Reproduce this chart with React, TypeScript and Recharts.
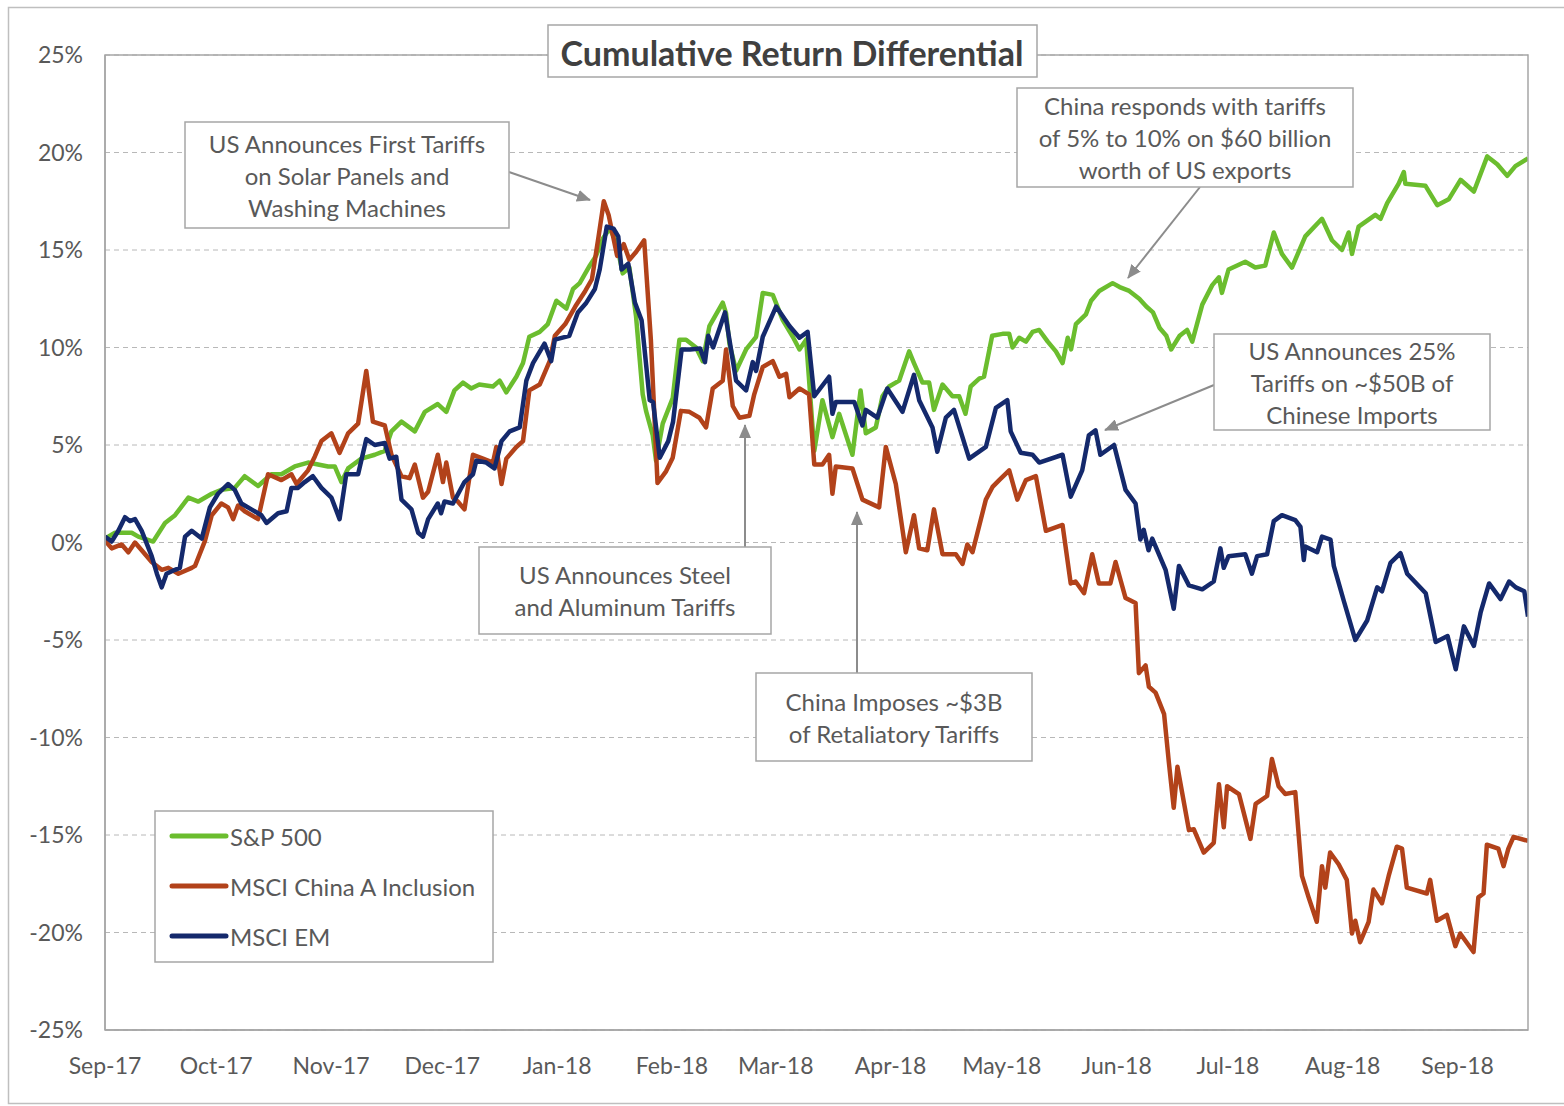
import React from 'react';
import { LineChart, Line, XAxis, YAxis, CartesianGrid } from 'recharts';

// x = days since 1 Sep 2017, y = cumulative return differential in %
const xTickDays = [0, 30, 61, 91, 122, 153, 181, 212, 242, 273, 303, 334, 365];
const xTickLabels = ['Sep-17', 'Oct-17', 'Nov-17', 'Dec-17', 'Jan-18', 'Feb-18', 'Mar-18', 'Apr-18', 'May-18', 'Jun-18', 'Jul-18', 'Aug-18', 'Sep-18'];
const yTicks = [-25, -20, -15, -10, -5, 0, 5, 10, 15, 20, 25];

const seriesNames = ['S&P 500', 'MSCI China A Inclusion', 'MSCI EM'];
const seriesColors = ['#6bbd2e', '#b2421a', '#14296c'];

const sp500: [number, number][] = [
  [0, 0.2], [2.7, 0.5], [7.2, 0.5], [9, 0.3], [13, 0.05], [16.2, 1.0], [18.9, 1.4], [22.5, 2.3], [25.2, 2.1], [28.8, 2.5],
  [31.4, 2.7], [35, 2.8], [37.7, 3.4], [41.3, 2.9], [44.9, 3.5], [47.6, 3.5], [51.2, 3.9], [54.8, 4.1], [57.5, 4.0], [60.2, 3.9],
  [62, 3.9], [63.8, 3.1], [65.6, 3.8], [69.2, 4.3], [72.8, 4.5], [75.5, 4.7], [77.3, 5.7], [80, 6.2], [83.6, 5.7], [86.3, 6.7],
  [89.8, 7.1], [92.1, 6.7], [94.3, 7.8], [96.6, 8.2], [98.8, 7.9], [101, 8.1], [104.7, 8.0], [106.5, 8.3], [108.3, 7.7], [111, 8.5],
  [112.8, 9.2], [114.5, 10.55], [117.3, 10.8], [119.5, 11.2], [121.8, 12.4], [124.5, 12.0], [126.3, 13.0], [128.1, 13.3], [130.8, 14.2], [132.5, 14.7],
  [134.4, 15.6], [136.2, 16.1], [138, 15.4], [139.7, 13.8], [141.5, 14.1], [143.3, 11.6], [145.1, 7.6], [146, 6.75], [147.8, 5.5], [148.7, 4.2],
  [150.5, 6.1], [153.2, 7.4], [155, 10.4], [156.8, 10.4], [159.5, 10.0], [161.3, 9.3], [163.1, 11.1], [166.7, 12.3], [167.6, 11.75], [168.5, 10.2],
  [170.3, 8.8], [173, 9.9], [175.7, 10.55], [177.5, 12.8], [180.2, 12.7], [182.9, 11.4], [185.6, 10.55], [187.4, 9.9], [189.2, 10.4], [191.4, 4.7],
  [193.6, 7.3], [196.3, 5.4], [198.1, 6.6], [201.7, 4.5], [203.9, 7.8], [205.3, 5.6], [208, 5.9], [209.8, 7.5], [211.6, 8.0], [214.3, 8.3],
  [217, 9.8], [218.3, 9.2], [220.6, 8.2], [222.4, 8.2], [223.7, 6.8], [226, 8.1], [228.7, 7.5], [230.5, 7.5], [232.2, 6.6], [233.6, 8.0],
  [235.9, 8.4], [237.2, 8.5], [239.4, 10.6], [242.2, 10.7], [244, 10.7], [244.9, 10.0], [246.7, 10.5], [248.5, 10.3], [250.3, 10.8], [252.1, 10.9],
  [254.4, 10.3], [256.6, 9.8], [258.4, 9.2], [259.8, 10.5], [260.7, 9.9], [262, 11.2], [264.7, 11.7], [266.1, 12.4], [268.3, 12.9], [271.9, 13.3],
  [273.8, 13.1], [276.4, 12.9], [279.1, 12.5], [281, 12.1], [282.8, 11.8], [284.6, 11.0], [286.4, 10.6], [287.7, 9.9], [290, 10.6], [292, 10.9],
  [293.4, 10.3], [296.1, 12.2], [298.8, 13.2], [300.6, 13.6], [301.4, 12.8], [303.2, 14.0], [307.7, 14.4], [310.4, 14.1], [313.1, 14.2], [315.4, 15.9],
  [317.6, 14.8], [320.3, 14.1], [323.9, 15.7], [328.4, 16.6], [331.1, 15.5], [333.8, 15.0], [335.6, 15.9], [336.5, 14.8], [338.3, 16.2], [342.8, 16.8],
  [344.2, 16.6], [346, 17.4], [349.1, 18.4], [350.5, 19.0], [350.9, 18.4], [356.3, 18.3], [359.5, 17.3], [362.6, 17.6], [365.8, 18.6], [369.4, 18.0],
  [373, 19.8], [375.7, 19.4], [378.4, 18.8], [380.6, 19.3], [384, 19.7],
];

const chinaA: [number, number][] = [
  [0, 0.1], [1.8, -0.3], [4.5, -0.1], [6.3, -0.5], [8.1, 0], [9.9, -0.4], [12.6, -1.0], [15.3, -1.4], [17.1, -1.3], [19.8, -1.6],
  [23.4, -1.3], [24.3, -1.2], [27, 0.1], [28.8, 1.4], [31.4, 2.0], [33.2, 1.8], [34.6, 1.2], [35.9, 1.9], [37.7, 1.6], [41.3, 1.2],
  [44, 3.5], [47.6, 3.2], [50.3, 3.5], [51.7, 3.0], [54.8, 3.7], [56.6, 4.4], [58.4, 5.2], [61.1, 5.6], [63.3, 4.6], [65.6, 5.6],
  [68.3, 6.1], [70.5, 8.8], [72.3, 6.2], [75.5, 6.0], [77.3, 4.5], [80, 3.4], [82.2, 3.3], [83.6, 4.0], [85.8, 2.3], [87.2, 2.6],
  [89.8, 4.5], [91.2, 3.1], [92.1, 4.1], [93.9, 2.3], [95.2, 2.1], [97, 1.7], [99.3, 4.5], [102, 4.3], [104.7, 4.1], [105.6, 4.9],
  [107, 3.0], [108.3, 4.3], [111, 4.9], [112.8, 5.2], [114.5, 7.8], [117.3, 8.1], [120, 9.3], [121.4, 10.6], [124.2, 11.2], [126.9, 12.1],
  [129.6, 12.9], [131.4, 13.5], [133.2, 15.7], [134.6, 17.5], [135.9, 16.8], [138.2, 14.7], [140, 15.3], [141.5, 14.5], [143.3, 14.9], [145.5, 15.5],
  [147.3, 10.4], [149.1, 3.05], [151.4, 3.65], [153.2, 4.35], [155.4, 6.75], [157.7, 6.7], [160.4, 6.4], [162.2, 5.9], [164, 7.9], [166.7, 8.3],
  [167.6, 9.9], [169.4, 7.0], [171.2, 6.4], [173.9, 6.5], [175.2, 7.6], [177.5, 9.0], [180.2, 9.3], [182, 8.5], [183.8, 8.65], [184.7, 7.45],
  [187.4, 7.9], [190, 7.6], [191.4, 4.0], [193.6, 4.0], [195.4, 4.5], [196.3, 2.5], [197.2, 3.9], [201.7, 3.8], [204.4, 2.2], [208.9, 1.8],
  [210.7, 4.9], [213.4, 3.0], [216.1, -0.5], [218.3, 1.4], [219.7, -0.3], [221.9, -0.4], [223.7, 1.7], [226, -0.6], [229.6, -0.6], [231.4, -1.1],
  [232.7, -0.1], [234.1, -0.5], [237.7, 2.2], [239.5, 2.85], [241.3, 3.2], [244, 3.7], [246.2, 2.2], [248.5, 3.2], [251.2, 3.4], [253.9, 0.6],
  [258.4, 0.9], [260.6, -2.1], [261.9, -2.0], [264.2, -2.6], [266.4, -0.6], [268.2, -2.1], [271.3, -2.1], [272.7, -1.0], [275.4, -2.85], [278.1, -3.1],
  [279, -6.7], [280.8, -6.3], [281.7, -7.4], [283.5, -7.7], [285.8, -8.8], [287.1, -11.3], [288.4, -13.6], [289.4, -11.5], [292.5, -14.75], [293.8, -14.7],
  [296.5, -15.9], [299.2, -15.4], [300.6, -12.4], [301.9, -14.6], [302.8, -12.5], [306, -12.9], [309.1, -15.2], [310.5, -13.4], [313.6, -13.0], [314.9, -11.1],
  [316.7, -12.5], [318.5, -12.9], [321.2, -12.8], [323, -17.1], [324.8, -18.2], [327, -19.45], [328.4, -16.6], [329.3, -17.7], [330.6, -15.9], [332.9, -16.5],
  [335.1, -17.3], [336.5, -20.05], [337.4, -19.4], [338.7, -20.5], [341, -19.45], [342.3, -17.8], [344.6, -18.5], [346.4, -17.1], [348.6, -15.6], [350, -15.7],
  [351.3, -17.7], [356.7, -18.0], [357.6, -17.3], [359.4, -19.4], [362.1, -19.1], [364.4, -20.7], [365.7, -20.05], [369.3, -21.0], [370.6, -18.2], [372, -18.0],
  [372.9, -15.5], [376, -15.7], [377.4, -16.6], [378.7, -15.7], [380.1, -15.1], [384, -15.3],
];

const msciEm: [number, number][] = [
  [0, 0.3], [1.8, 0.05], [3.6, 0.6], [5.4, 1.3], [6.7, 1.1], [8.1, 1.2], [9.9, 0.6], [12.6, -0.7], [14, -1.6], [15.3, -2.3],
  [16.6, -1.6], [18.9, -1.4], [20.2, -1.3], [21.6, 0.3], [23.4, 0.6], [26.1, 0.2], [28.3, 1.8], [30.5, 2.5], [33.2, 3.0], [35, 2.7],
  [36.8, 2.0], [39.5, 1.7], [42.2, 1.4], [43.6, 1.0], [46.7, 1.5], [49, 1.6], [50.3, 2.8], [52.1, 2.8], [53.9, 3.1], [56.1, 3.4],
  [58.4, 2.8], [61.1, 2.3], [63.3, 1.2], [65.1, 3.5], [68.3, 3.5], [70.5, 5.3], [72.8, 5.0], [75.5, 5.1], [76.8, 4.3], [78.6, 4.4],
  [80, 2.2], [82.7, 1.7], [84.5, 0.5], [85.8, 0.3], [87.2, 1.2], [89.8, 2.0], [90.7, 1.5], [91.6, 2.1], [93.9, 2.0], [97, 3.1],
  [99.3, 3.5], [100.2, 4.2], [102.9, 4.1], [105.1, 3.8], [107, 5.2], [109.2, 5.7], [111.9, 5.9], [113.7, 8.3], [115.5, 9.2], [118.6, 10.2],
  [120.4, 9.3], [121.4, 10.4], [125.3, 10.6], [127.6, 11.8], [129.9, 12.3], [132.2, 13.0], [133.5, 14.0], [135.4, 16.2], [137.2, 16.1], [138.5, 15.7],
  [139.4, 14.0], [141.2, 14.3], [143, 12.3], [144.8, 11.4], [147, 7.3], [147.9, 7.2], [149.7, 4.35], [152, 5.2], [153.3, 6.2], [155.6, 9.9],
  [157.9, 9.9], [160.6, 9.95], [161.9, 9.25], [162.8, 10.6], [164.1, 10.0], [167.3, 11.8], [168.5, 10.4], [170.3, 8.3], [173, 7.8], [174.8, 9.25],
  [175.7, 8.8], [177.5, 10.55], [181.1, 12.1], [184.7, 11.1], [187.4, 10.5], [189.6, 10.8], [191.4, 7.5], [195.4, 8.5], [196.3, 6.6], [197.2, 7.2],
  [202.2, 7.2], [204.4, 6.0], [205.3, 6.8], [208.4, 6.4], [211.1, 7.9], [215.2, 6.7], [218.3, 8.6], [219.7, 7.3], [223.3, 5.9], [224.6, 4.65],
  [226.9, 6.4], [229.1, 6.8], [233.2, 4.3], [237.7, 4.9], [240.4, 6.9], [243.5, 7.3], [244.4, 5.7], [247.1, 4.6], [250.3, 4.5], [252.1, 4.1],
  [258.4, 4.5], [260.6, 2.35], [263.7, 3.7], [265.5, 5.5], [267.3, 5.75], [268.6, 4.5], [272.3, 5.0], [275.4, 2.7], [278.1, 2.0], [279.4, 0.15],
  [280.3, 0.65], [281.6, -0.4], [282.6, 0.2], [286.2, -1.4], [288.4, -3.4], [289.8, -1.2], [292.5, -2.2], [296.1, -2.4], [299.2, -2.0], [301, -0.3],
  [301.9, -1.3], [303.2, -0.7], [307.7, -0.6], [309.5, -1.6], [310.9, -0.7], [313.6, -0.6], [315.4, 1.1], [317.6, 1.4], [321.2, 1.15], [322.6, 0.8],
  [323.5, -0.9], [323.9, -0.2], [327.1, -0.5], [328.4, 0.3], [330.7, 0.15], [331.6, -1.2], [334.3, -3.0], [337.4, -5.0], [340.6, -4.0], [343.3, -2.3],
  [344.6, -2.5], [346.9, -1.05], [349.6, -0.55], [351.4, -1.6], [356.4, -2.6], [359.1, -5.1], [362.3, -4.8], [364.5, -6.5], [366.7, -4.3], [369.4, -5.3],
  [371.2, -3.6], [373.5, -2.1], [376.6, -2.9], [378.9, -2.0], [380.7, -2.3], [383, -2.5], [384, -3.8],
];

const W = 1564;
const H = 1106;
const PLOT = { left: 105, right: 1528, top: 55, bottom: 1030 };
const FONT = 'Lato, "Open Sans", sans-serif';
const TEXT = '#595959';
const BOX = '#a6a6a6';
const ARROW = '#8c8c8c';

const toRows = (pts: [number, number][]) => pts.map(([day, v]) => ({ day, v }));

function Note({ x, y, w, h, lines }: { x: number; y: number; w: number; h: number; lines: string[] }) {
  const lh = 32;
  const y0 = y + h / 2 - ((lines.length - 1) * lh) / 2;
  return (
    <g>
      <rect x={x} y={y} width={w} height={h} fill="#fff" stroke={BOX} strokeWidth={1.5} />
      {lines.map((t, i) => (
        <text key={i} x={x + w / 2} y={y0 + i * lh} textAnchor="middle" dominantBaseline="central" fontSize={24} fill={TEXT} fontFamily={FONT}>
          {t}
        </text>
      ))}
    </g>
  );
}

function Overlay() {
  return (
    <svg width={W} height={H} style={{ position: 'absolute', left: 0, top: 0, pointerEvents: 'none' }}>
      <defs>
        <marker id="head" markerWidth={14} markerHeight={12} refX={13} refY={6} orient="auto" markerUnits="userSpaceOnUse">
          <path d="M0,0 L14,6 L0,12 Z" fill={ARROW} />
        </marker>
      </defs>
      {/* outer frame: top, left, bottom only */}
      <path d={`M${W},7.5 L8.5,7.5 L8.5,${H - 2.5} L${W},${H - 2.5}`} fill="none" stroke="#bfbfbf" strokeWidth={1.5} />
      <rect x={PLOT.left} y={PLOT.top} width={PLOT.right - PLOT.left} height={PLOT.bottom - PLOT.top} fill="none" stroke={BOX} strokeWidth={1.5} />

      <rect x={548} y={25} width={489} height={52} fill="#fff" stroke={BOX} strokeWidth={1.5} />
      <text x={792} y={52} textAnchor="middle" dominantBaseline="central" fontSize={34} fontWeight={700} fill="#404040" fontFamily={FONT}>
        Cumulative Return Differential
      </text>

      <g stroke={ARROW} strokeWidth={2} markerEnd="url(#head)">
        <line x1={509} y1={172} x2={590} y2={200} />
        <line x1={1200} y1={187} x2={1128} y2={278} />
        <line x1={1214} y1={385} x2={1105} y2={430} />
        <line x1={745} y1={547} x2={745} y2={425} />
        <line x1={857} y1={673} x2={857} y2={512} />
      </g>

      <Note x={185} y={122} w={324} h={106} lines={['US Announces First Tariffs', 'on Solar Panels and', 'Washing Machines']} />
      <Note x={1017} y={88} w={336} h={99} lines={['China responds with tariffs', 'of 5% to 10% on $60 billion', 'worth of US exports']} />
      <Note x={1214} y={334} w={276} h={96} lines={['US Announces 25%', 'Tariffs on ~$50B of', 'Chinese Imports']} />
      <Note x={479} y={547} w={292} h={87} lines={['US Announces Steel', 'and Aluminum Tariffs']} />
      <Note x={756} y={673} w={276} h={88} lines={['China Imposes ~$3B', 'of Retaliatory Tariffs']} />

      <rect x={155} y={811} width={338} height={151} fill="#fff" stroke={BOX} strokeWidth={1.5} />
      {seriesNames.map((name, i) => (
        <g key={name}>
          <line x1={172} x2={226} y1={836 + i * 50} y2={836 + i * 50} stroke={seriesColors[i]} strokeWidth={5} strokeLinecap="round" />
          <text x={230} y={836 + i * 50} dominantBaseline="central" fontSize={24} fill={TEXT} fontFamily={FONT}>
            {name}
          </text>
        </g>
      ))}
    </svg>
  );
}

export default function App() {
  const rows = [toRows(sp500), toRows(chinaA), toRows(msciEm)];
  const tickStyle = { fill: TEXT, fontSize: 23, fontFamily: FONT };
  return (
    <div style={{ position: 'absolute', left: 0, top: 0, width: W, height: H, background: '#fff', fontFamily: FONT }}>
      <LineChart width={W} height={H} margin={{ top: PLOT.top, right: W - PLOT.right, bottom: 0, left: 0 }}>
        <CartesianGrid vertical={false} stroke="#b8b8b8" strokeDasharray="5 4" />
        <XAxis
          type="number"
          dataKey="day"
          domain={[0, 384]}
          ticks={xTickDays}
          interval={0}
          allowDataOverflow
          tickFormatter={(d: number) => xTickLabels[xTickDays.indexOf(d)] ?? ''}
          tick={tickStyle}
          tickLine={false}
          tickSize={0}
          tickMargin={28}
          axisLine={{ stroke: BOX, strokeWidth: 1.5 }}
          height={H - PLOT.bottom}
        />
        <YAxis
          type="number"
          domain={[-25, 25]}
          ticks={yTicks}
          interval={0}
          tickFormatter={(v: number) => `${v}%`}
          tick={tickStyle}
          tickLine={false}
          tickSize={0}
          tickMargin={22}
          axisLine={{ stroke: BOX, strokeWidth: 1.5 }}
          width={PLOT.left}
        />
        {rows.map((data, i) => (
          <Line
            key={seriesNames[i]}
            data={data}
            dataKey="v"
            name={seriesNames[i]}
            type="linear"
            stroke={seriesColors[i]}
            strokeWidth={4.5}
            strokeLinejoin="round"
            dot={false}
            activeDot={false}
            isAnimationActive={false}
          />
        ))}
      </LineChart>
      <Overlay />
    </div>
  );
}
